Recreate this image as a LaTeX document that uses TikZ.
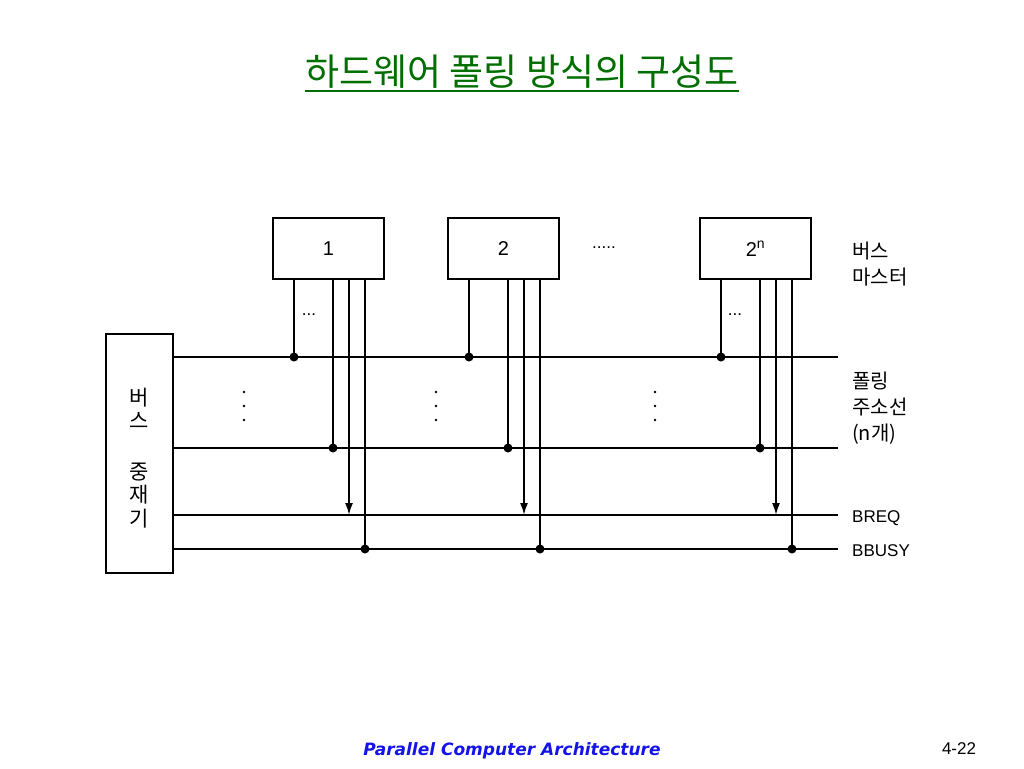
\documentclass[tikz,border=0pt]{standalone}
\usepackage{fontspec}
\setmainfont{Liberation Sans}
\newfontfamily\krfont{Noto Sans CJK KR}
\newfontfamily\footfont{DejaVu Sans}
\usetikzlibrary{arrows.meta, positioning, calc}
\definecolor{titlegreen}{RGB}{0,110,0}
\definecolor{footblue}{RGB}{20,20,230}

\tikzset{
  master/.style={draw, line width=2pt, minimum width=111pt, minimum height=61pt, font=\fontsize{20}{20}\selectfont},
  arbiter/.style={draw, line width=2pt, minimum width=67pt, minimum height=239pt, align=center, font=\krfont\fontsize{21}{23.5}\selectfont},
  busline/.style={line width=1.8pt},
  tap/.style={line width=1.8pt},
  dot/.style={circle, fill, inner sep=0pt, minimum size=9pt},
  lbl/.style={anchor=west, align=left, inner sep=0pt, font=\krfont\fontsize{20}{26}\selectfont},
  sig/.style={anchor=west, inner sep=0pt, font=\fontsize{17}{17}\selectfont},
  more/.style={font=\fontsize{17}{17}\selectfont},
}

\begin{document}
\begin{tikzpicture}[x=1pt, y=-1pt]
        \useasboundingbox (0,0) rectangle (1024,768);

        % Title
        \node[font=\krfont\fontsize{37}{37}\selectfont, text=titlegreen, inner sep=0pt] (title) at (522,72) {하드웨어 폴링 방식의 구성도};
        \draw[titlegreen, line width=1.8pt] ([yshift=-5pt]title.base west) -- ([yshift=-5pt]title.base east);

        % Bus arbiter and bus masters
        \node[arbiter] (arbiter) at (139.5,453.5) {};
        \node[arbiter, draw=none] (arbiterlbl) at (139.5,458) {버\\스\\[27pt]중\\재\\기};
        \node[master] (m1) at (328.5,248.5) {1};
        \node[master] (m2) at (503.5,248.5) {2};
        \node[master] (mn) at (755.5,248.5) {2\textsuperscript{n}};
        \node[more] (mdots) at (604,248) {.....};

        % Bus lines
        \coordinate (addr1) at (838,357);
        \coordinate (addrn) at (838,448);
        \coordinate (breq) at (838,515);
        \coordinate (bbusy) at (838,549);
        \foreach \b in {addr1, addrn, breq, bbusy}
            \draw[busline] (arbiter.east |- \b) -- (\b);

        % Taps of each master
        \foreach \m in {m1, m2, mn} {
            \coordinate (\m-a) at ($(\m.south)+(-34.5,0)$);
            \coordinate (\m-b) at ($(\m.south)+(4.5,0)$);
            \coordinate (\m-c) at ($(\m.south)+(20.5,0)$);
            \coordinate (\m-d) at ($(\m.south)+(36.5,0)$);
            \draw[tap] (\m-a) -- (\m-a |- addr1) node[dot] (\m-a1) {};
            \draw[tap] (\m-b) -- (\m-b |- addrn) node[dot] (\m-bn) {};
            \draw[tap, -{Latex[length=12pt, width=8pt]}] (\m-c) -- (\m-c |- breq);
            \draw[tap] (\m-d) -- (\m-d |- bbusy) node[dot] (\m-dy) {};
        }
        \node[more] (m1-more) at (309,315) {...};
        \node[more] (mn-more) at (735,315) {...};

        % Address lines in between
        \foreach \x in {244, 436, 655}
            \foreach \y in {392, 406, 420}
                \fill (\x,\y) circle (1.4pt);

        % Labels
        \node[lbl] (masterlbl) at (852,264) {버스\\마스터};
        \node[lbl] (addrlbl) at (852,408) {폴링\\주소선\\(n개)};
        \node[sig] (breqlbl) at (852,518) {BREQ};
        \node[sig] (bbusylbl) at (852,551) {BBUSY};

        % Footer
        \node[font=\footfont\bfseries\itshape\fontsize{17}{17}\selectfont, text=footblue] (footer) at (512,751) {Parallel Computer Architecture};
        \node[font=\fontsize{17}{17}\selectfont] (pagenum) at (959,749) {4-22};
\end{tikzpicture}
\end{document}
